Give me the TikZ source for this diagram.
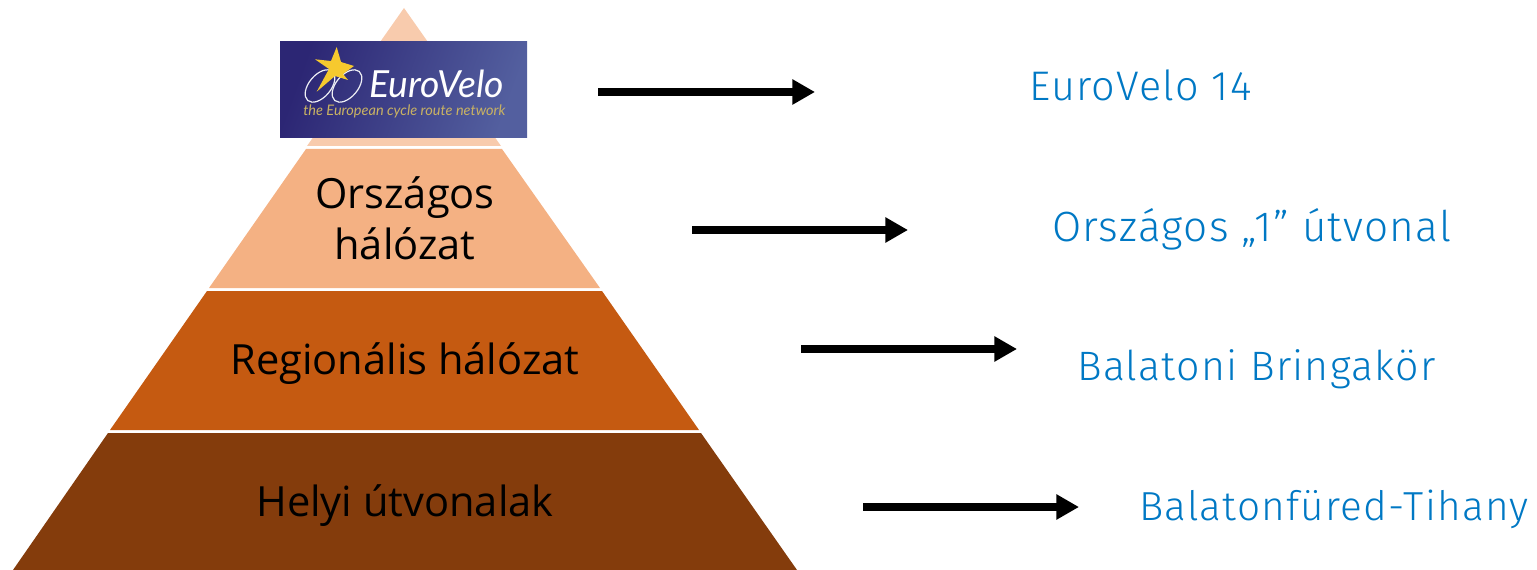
\documentclass[tikz,border=0pt]{standalone}
\usepackage{fontspec}
\setmainfont{Open Sans}
\newfontfamily\bluefont[LetterSpace=3]{Fira Sans Light}
\newfontfamily\logofont[ItalicFont=*-Italic]{Lato}
\usetikzlibrary{arrows.meta,shadings}
\definecolor{tierA}{HTML}{F8CBAD}
\definecolor{tierB}{HTML}{F4B183}
\definecolor{tierC}{HTML}{C55A11}
\definecolor{tierD}{HTML}{843C0C}
\definecolor{linkblue}{HTML}{0078C4}
\definecolor{logoL}{HTML}{2C2674}
\definecolor{logoR}{HTML}{535F9F}
\definecolor{logotan}{HTML}{C9B263}
\definecolor{logostar}{HTML}{F6C92E}
\tikzset{
  label/.style={font=\fontsize{31.2}{38}\selectfont,text=black,align=center,inner sep=0pt},
  route/.style={text=linkblue,anchor=base west,inner sep=0pt},
  flow/.style={line width=5.6pt,black,-{Triangle[length=17pt,width=18pt]}},
}
\begin{document}
\begin{tikzpicture}[x=0.75pt,y=-0.75pt]
\useasboundingbox (0,0) rectangle (1537,570);
% pyramid
\fill[tierA] (404,8) -- (501,146) -- (307,146) -- cycle;
\fill[tierB] (306,149) -- (502,149) -- (600,288) -- (209,288) -- cycle;
\fill[tierC] (207,291) -- (602,291) -- (699,430) -- (110,430) -- cycle;
\fill[tierD] (108,433) -- (701,433) -- (797,570) -- (13,570) -- cycle;
% logo
\shade[left color=logoL,right color=logoR,shading angle=70] (280,42) rectangle (527,138);
\draw[white!90!logoR,line width=0.9pt,rotate around={50:(320,86)}] (320,86) ellipse [x radius=19,y radius=11];
\draw[white!90!logoR,line width=0.9pt,rotate around={50:(347,86)}] (347,86) ellipse [x radius=19,y radius=11];
\fill[logostar] (336.7,47) -- (341,62) -- (354,66) -- (343,74) -- (348,80) -- (335,76) -- (316.7,91.7) -- (329,69) -- (315,59.3) -- (331,61) -- cycle;
\node[inner sep=0pt,anchor=base west,text=white,font=\logofont\itshape\fontsize{28}{32}\selectfont] (logoname) at (369,98) {EuroVelo};
\node[inner sep=0pt,anchor=base west,text=logotan,font=\logofont\itshape\fontsize{10.9}{12}\selectfont] (logotag) at (303,116) {the European cycle route network};
% tier labels
\node[label] (national) at (405,218) {Országos\\hálózat};
\node[label] (regional) at (405,364) {Regionális hálózat};
\node[label] (local) at (405,506) {Helyi útvonalak};
% routes
\node[route,font=\bluefont\fontsize{31}{36}\selectfont] (r1) at (1029,101) {EuroVelo 14};
\node[route,font=\bluefont\fontsize{31.7}{36}\selectfont] (r2) at (1052,242) {Országos „1” útvonal};
\node[route,font=\bluefont\fontsize{30.8}{36}\selectfont] (r3) at (1077,380) {Balatoni Bringakör};
\node[route,font=\bluefont\fontsize{30.4}{36}\selectfont] (r4) at (1139,520) {Balatonfüred-Tihany};
% arrows
\coordinate (a1s) at (598,92); \coordinate (a1e) at (815,92);
\coordinate (a2s) at (692,230); \coordinate (a2e) at (908,230);
\coordinate (a3s) at (801,349); \coordinate (a3e) at (1017,349);
\coordinate (a4s) at (863,507); \coordinate (a4e) at (1079,507);
\draw[flow] (a1s) -- (a1e);
\draw[flow] (a2s) -- (a2e);
\draw[flow] (a3s) -- (a3e);
\draw[flow] (a4s) -- (a4e);
\end{tikzpicture}
\end{document}
